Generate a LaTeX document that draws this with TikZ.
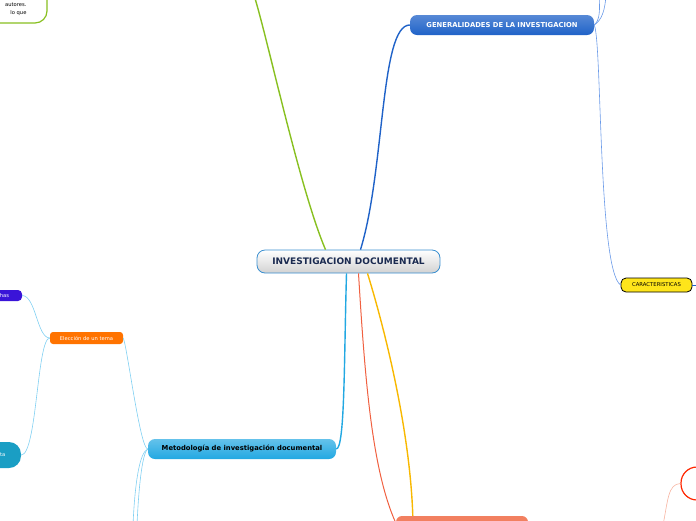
\documentclass[tikz,border=0pt]{standalone}
\usepackage{fontspec}
\setmainfont{DejaVu Sans}
\usepackage{xcolor}
\usetikzlibrary{calc}

\definecolor{mainborder}{HTML}{3A8FD0}
\definecolor{maintext}{HTML}{1A2A50}
\definecolor{genblue}{HTML}{1F62C8}
\definecolor{metblue}{HTML}{22A8E2}
\definecolor{linkgreen}{HTML}{88C020}
\definecolor{linkred}{HTML}{F06040}
\definecolor{linkyellow}{HTML}{F8B800}
\definecolor{thinblue}{HTML}{80D0F2}
\definecolor{thingen}{HTML}{6A9AE8}
\definecolor{salmon}{HTML}{F28060}
\definecolor{tealfill}{HTML}{1A9EC4}
\definecolor{violetfill}{HTML}{3A14D8}

\begin{document}
\begin{tikzpicture}[
  x=1pt, y=-1pt,
  central/.style={draw=mainborder, line width=0.8pt, rounded corners=8pt, top color=white, bottom color=gray!35, text=maintext, font=\fontsize{9}{10}\selectfont\bfseries, minimum width=183pt, minimum height=23pt, inner sep=0pt},
  topic/.style={rounded corners=7pt, text=white, font=\fontsize{6.8}{8}\selectfont\bfseries, minimum height=20pt, inner sep=0pt},
  sub/.style={rounded corners=3pt, text=white, font=\fontsize{5.2}{6}\selectfont, inner sep=0pt},
  thick link/.style={line width=1.4pt},
  thin link/.style={line width=0.6pt}
]
\useasboundingbox (0,0) rectangle (696,520);

% main node and first level
\node[central] (main) at (348.5,261.5) {INVESTIGACION DOCUMENTAL};
\node[topic, top color=genblue!75, bottom color=genblue, minimum width=184pt] (gen) at (502,25) {GENERALIDADES DE LA INVESTIGACION};
\node[topic, top color=metblue!70, bottom color=metblue, text=black, minimum width=188pt] (met) at (242,449) {Metodología de investigación documental};
\node[draw=linkgreen, line width=1.2pt, fill=white, rounded corners=12pt, minimum width=147pt, minimum height=63pt] (green) at (-26.5,-8.5) {};
\node[font=\fontsize{5.2}{8}\selectfont, align=right, anchor=east] (greentxt) at (30,9.5) {autores.\\lo que};
\node[fill=salmon, rounded corners=6pt, minimum width=132pt, minimum height=24pt] (bottom) at (462,528) {};

% second level
\node[draw=black, line width=0.8pt, fill=yellow!85!orange!90, rounded corners=5pt, font=\fontsize{5.3}{6}\selectfont, minimum width=71pt, minimum height=14pt, inner sep=0pt] (car) at (656.5,285) {CARACTERISTICAS};
\node[sub, fill=orange!90!red, minimum width=73pt, minimum height=12pt] (tema) at (86.5,338) {Elección de un tema};
\node[sub, fill=violetfill, minimum width=62pt, minimum height=11pt, rounded corners=4pt] (fichas) at (-9,295.5) {\hspace*{20pt}Fichas};
\node[sub, fill=tealfill, minimum width=62pt, minimum height=26pt, rounded corners=12pt] (consulta) at (-10,455) {\hspace*{8pt}Consulta};
\node[draw=red!70!orange, line width=1.2pt, fill=white, rounded corners=16pt, minimum width=50pt, minimum height=33pt] (circ) at (706,483.5) {};

% free ends
\coordinate (greenend) at (254,-5);
\coordinate (genup1) at (599,-5);
\coordinate (genup2) at (606,-5);
\coordinate (carend) at (700,285);
\coordinate (metdown1) at (133,525);
\coordinate (metdown2) at (137,525);
\coordinate (circdown) at (663,525);

% links from the main node
\draw[thick link, linkgreen] ($(main.north)+(-23,0)$) .. controls (300,190) and (268,40) .. (greenend);
\draw[thick link, genblue] ($(main.north)+(12,0)$) .. controls (385,170) and (380,25) .. (gen.west);
\draw[thick link, metblue] ($(main.south)+(-2,0)$) .. controls (344,360) and (345,449) .. (met.east);
\draw[thin link, linkred, line width=1pt] ($(main.south)+(10,0)$) .. controls (365,380) and (372,470) .. ($(bottom.west)+(0,-5)$);
\draw[thick link, linkyellow] ($(main.south)+(19,0)$) .. controls (385,330) and (410,430) .. ($(bottom.north west)+(17,0)$);

% links from the topics
\draw[thin link, thingen] (gen.east) .. controls (600,20) and (600,10) .. (genup1);
\draw[thin link, thingen] (gen.east) .. controls (602,20) and (605,10) .. (genup2);
\draw[thin link, thingen] (gen.east) .. controls (602,40) and (598,270) .. (car.west);
\draw[thin link, genblue] (car.east) -- (carend);
\draw[thin link, thinblue] (met.west) .. controls (140,449) and (127,345) .. (tema.east);
\draw[thin link, thinblue] (met.west) .. controls (140,452) and (135,480) .. (metdown1);
\draw[thin link, thinblue] (met.west) .. controls (143,452) and (139,480) .. (metdown2);
\draw[thin link, thinblue] (tema.west) .. controls (37,338) and (36,296) .. (fichas.east);
\draw[thin link, thinblue] (tema.west) .. controls (37,338) and (37,455) .. (consulta.east);
\draw[thin link, salmon!60] (circ.west) .. controls (668,484) and (668,500) .. (circdown);
\end{tikzpicture}
\end{document}
